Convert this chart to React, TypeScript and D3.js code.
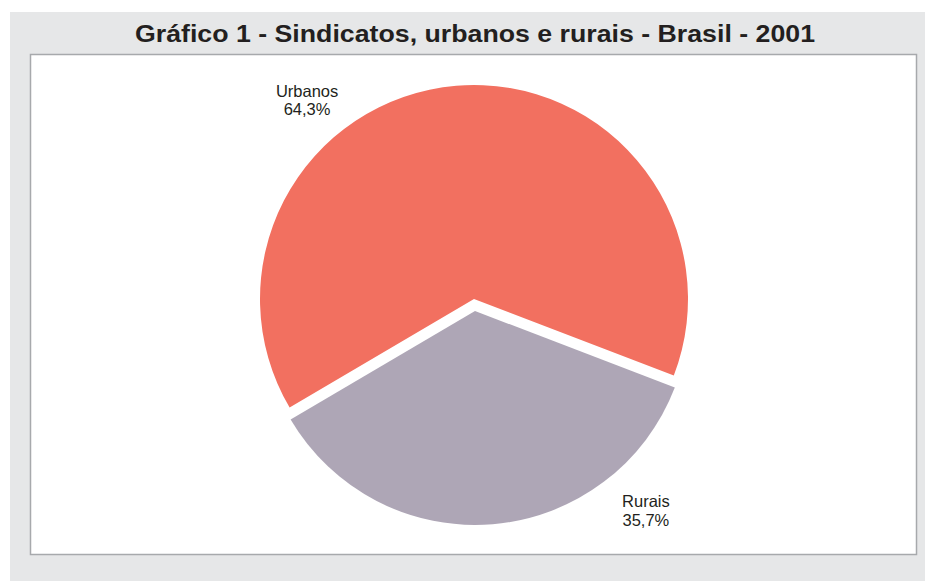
import React from "react";
import * as d3 from "d3";

const categories = ["Urbanos", "Rurais"];
const values = [64.3, 35.7];
const valueLabels = ["64,3%", "35,7%"];
const colors = ["#f27060", "#aea6b6"];
const title = "Gráfico 1 - Sindicatos, urbanos e rurais - Brasil - 2001";

export default function App() {
  const W = 925;
  const H = 581;
  const cx = 474;
  const cy = 299;
  const r = 214;
  const explode = [0, 12];

  const data = categories.map((c, i) => ({ name: c, value: values[i], label: valueLabels[i], color: colors[i], explode: explode[i] }));

  const startA = (-120.5 * Math.PI) / 180;
  const pie = d3
    .pie<any>()
    .value((d: any) => d.value)
    .sort(null)
    .startAngle(startA)
    .endAngle(startA + 2 * Math.PI);
  const arcs = pie(data);
  const arc = d3.arc<any>().innerRadius(0).outerRadius(r);
  const labelOffset = (-34.8 * Math.PI) / 180;
  const labelR = 266;

  return (
    <svg width={W} height={H} style={{ position: "absolute", left: 0, top: 0, background: "#ffffff" }}>
      <rect x={10} y={12} width={W - 10} height={H - 12} fill="#e6e7e8" />
      <rect x={30.5} y={54.5} width={886} height={500} fill="#ffffff" stroke="#a7a9ac" strokeWidth={1.5} />
      <text
        x={475}
        y={42}
        textAnchor="middle"
        fontFamily="'Liberation Sans', Arial, sans-serif"
        fontWeight="bold"
        fontSize={23}
        fill="#231f20"
        textLength={680}
        lengthAdjust="spacingAndGlyphs"
      >
        {title}
      </text>
      {arcs.map((a, i) => {
        const mid = (a.startAngle + a.endAngle) / 2;
        const dx = Math.sin(mid) * a.data.explode;
        const dy = -Math.cos(mid) * a.data.explode;
        return (
          <path key={i} d={arc(a) as string} transform={`translate(${cx + dx},${cy + dy})`} fill={a.data.color} />
        );
      })}
      {arcs.map((a, i) => {
        const mid = (a.startAngle + a.endAngle) / 2 + labelOffset;
        const lx = cx + 2.5 + Math.sin(mid) * labelR;
        const ly = cy - Math.cos(mid) * labelR;
        return (
          <text
            key={"l" + i}
            x={lx}
            y={ly + 3}
            textAnchor="middle"
            fontFamily="'Liberation Sans', Arial, sans-serif"
            fontSize={16.5}
            fill="#231f20"
          >
            <tspan x={lx} dy={0}>{a.data.name}</tspan>
            <tspan x={lx} dy={18.5}>{a.data.label}</tspan>
          </text>
        );
      })}
    </svg>
  );
}
